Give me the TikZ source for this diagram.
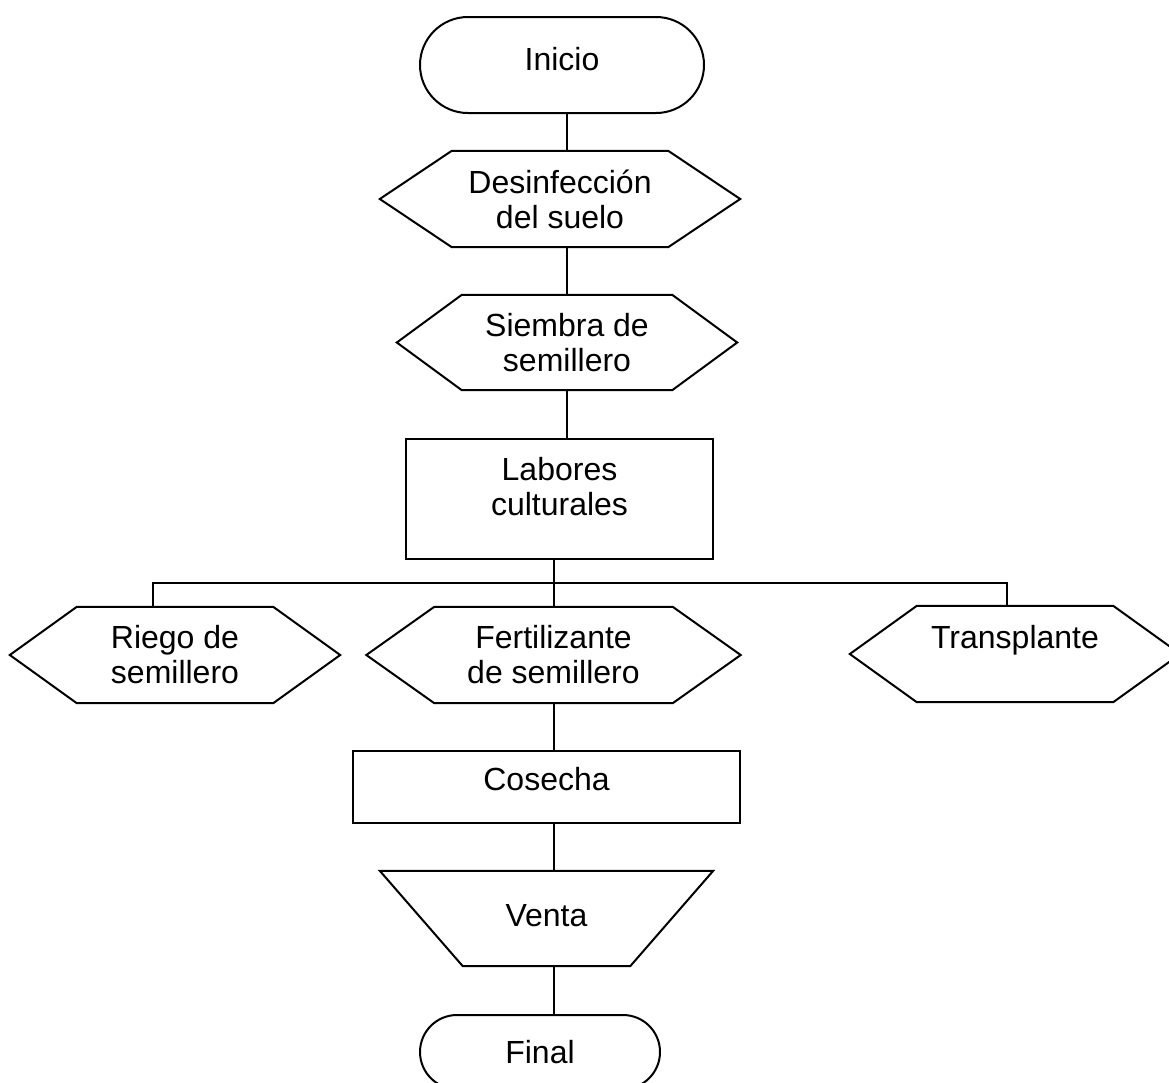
\documentclass[tikz,border=0pt]{standalone}
\usepackage{fontspec}
\setmainfont{Liberation Sans}
\usetikzlibrary{shapes.misc}

% outline of a flat-topped hexagon fitted to a rectangular node
\newcommand\hexoutline[2]{%
  \draw[flow] (#1.west) -- ([xshift=#2]#1.north west) -- ([xshift=-#2]#1.north east)
    -- (#1.east) -- ([xshift=-#2]#1.south east) -- ([xshift=#2]#1.south west) -- cycle;}

\begin{document}
\begin{tikzpicture}[x=1pt,y=-1pt,
  every node/.style={font=\fontsize{32}{35}\selectfont, align=center, inner sep=0pt},
  flow/.style={line width=2pt, black},
  terminal/.style={flow, draw, rounded rectangle},
  procbox/.style={flow, draw, rectangle},
  hexbox/.style={rectangle, minimum height=96},
  trapbox/.style={rectangle}]
\clip (0,0) rectangle (1169,1082);
\fill[white] (0,0) rectangle (1169,1082);

% main column
\node[terminal, minimum width=284, minimum height=96, text depth=12pt] (inicio) at (562,65) {Inicio};
\node[hexbox, minimum width=360] (desinf) at (560,199) {Desinfección\\del suelo};
\hexoutline{desinf}{72}
\node[hexbox, minimum width=340, minimum height=95] (siembra) at (567,342.5) {Siembra de\\semillero};
\hexoutline{siembra}{65}
\node[procbox, minimum width=307, minimum height=120] (labores) at (559.5,499) {};
\node (laborestxt) at (559.5,487) {Labores\\culturales};

% branch of three tasks
\node[hexbox, minimum width=330] (riego) at (175,655) {Riego de\\semillero};
\hexoutline{riego}{67}
\node[hexbox, minimum width=374] (fert) at (553.5,655) {Fertilizante\\de semillero};
\hexoutline{fert}{68}
\node[hexbox, minimum width=330] (transp) at (1015,654) {Transplante\\\mbox{}};
\hexoutline{transp}{67}

% closing steps
\node[procbox, minimum width=387, minimum height=72, text depth=16pt] (cosecha) at (546.5,787) {Cosecha};
\node[trapbox, minimum width=333, minimum height=95, text depth=6pt] (venta) at (546.5,918.5) {Venta};
\draw[flow] (venta.north west) -- (venta.north east) -- ([xshift=-83]venta.south east)
  -- ([xshift=83]venta.south west) -- cycle;
\node[terminal, minimum width=240, minimum height=74] (final) at (540,1052) {Final};

% connectors
\coordinate (riegotap) at (153,583);
\coordinate (transtap) at (1007,583);
\draw[flow] (inicio.south -| siembra) -- (desinf.north -| siembra);
\draw[flow] (desinf.south -| siembra) -- (siembra.north);
\draw[flow] (siembra.south) -- (labores.north -| siembra);
\draw[flow] (labores.south -| fert) -- (fert.north);
\draw[flow] (riegotap |- riego.north) -- (riegotap) -- (transtap) -- (transtap |- transp.north);
\draw[flow] (fert.south) -- (cosecha.north -| fert);
\draw[flow] (cosecha.south -| fert) -- (venta.north -| fert);
\draw[flow] (venta.south -| fert) -- (final.north -| fert);
\end{tikzpicture}
\end{document}
